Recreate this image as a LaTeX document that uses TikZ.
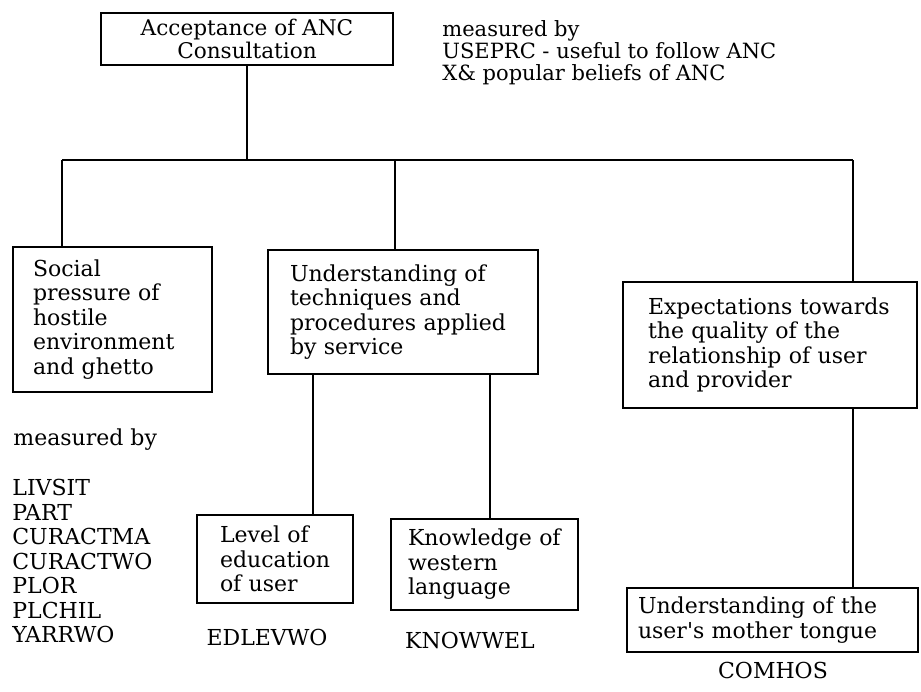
\documentclass[tikz,border=0pt]{standalone}
\usepackage{fontspec}
\setmainfont{DejaVu Serif}
\usepackage{tikz}
\usetikzlibrary{calc}
\tikzset{factor/.style={draw,thick,align=left,inner ysep=0pt,font=\fontsize{11}{12.25}\selectfont},
         plain/.style={align=left,inner sep=0pt,font=\fontsize{11}{12.25}\selectfont}}
\begin{document}
                  \begin{tikzpicture}[x=0.5pt,y=-0.5pt]
                      \useasboundingbox (0,0) rectangle (921,691);
                      \node[factor,align=center,minimum width=146pt,minimum height=26pt,font=\fontsize{10.8}{11.5}\selectfont](acc)at(247,39){Acceptance of ANC\\Consultation};
                      \node[plain,anchor=north west,font=\fontsize{10.5}{11}\selectfont](accm)at(442,20){measured by\\USEPRC - useful to follow ANC\\X\& popular beliefs of ANC};
                      \node[factor,minimum height=72.5pt,text width=79.5pt,inner xsep=10pt](social)at(112.5,319.5){Social\\pressure of\\hostile\\environment\\and ghetto};
                      \node[factor,minimum height=62pt,text width=113pt,inner xsep=11pt](under)at(403,312){Understanding of\\techniques and\\procedures applied\\by service};
                      \node[factor,minimum height=63pt,text width=122pt,inner xsep=12.5pt](expect)at(770,345){Expectations towards\\the quality of the\\relationship of user\\and provider};
                      \node[factor,minimum height=44pt,text width=55pt,inner xsep=11.5pt](level)at(275,559){Level of\\education\\of user};
                      \node[factor,minimum height=45.5pt,text width=76.5pt,inner xsep=8.5pt](knowl)at(484.5,564.5){Knowledge of\\western\\language};
                      \node[factor,minimum height=32pt,text width=134.5pt,inner xsep=5.5pt](mother)at(772.5,620){Understanding of the\\user\textquotesingle s mother tongue};
                      \node[plain,anchor=west](socm)at(13,440){measured by};
                      \node[plain,anchor=north west](socv)at(12,479){LIVSIT\\PART\\CURACTMA\\CURACTWO\\PLOR\\PLCHIL\\YARRWO};
                      \node[plain](levv)at(267,637){EDLEVWO};
                      \node[plain](knowv)at(470,640){KNOWWEL};
                      \node[plain](motherv)at(773,670){COMHOS};
                      \coordinate (b1) at (62,160);
                      \coordinate (b2) at (395,160);
                      \coordinate (b3) at (853,160);
                      \coordinate (d1) at (313,0);
                      \coordinate (d2) at (490,0);
                      \draw[thick] (b1)--(b3);
                      \draw[thick] (acc.south)--(acc.south |- b1);
                      \draw[thick] (b1)--(b1 |- social.north);
                      \draw[thick] (b2)--(b2 |- under.north);
                      \draw[thick] (b3)--(b3 |- expect.north);
                      \draw[thick] (expect.south -| b3)--(mother.north -| b3);
                      \draw[thick] (under.south -| d1)--(level.north -| d1);
                      \draw[thick] (under.south -| d2)--(knowl.north -| d2);
                  \end{tikzpicture}
\end{document}
